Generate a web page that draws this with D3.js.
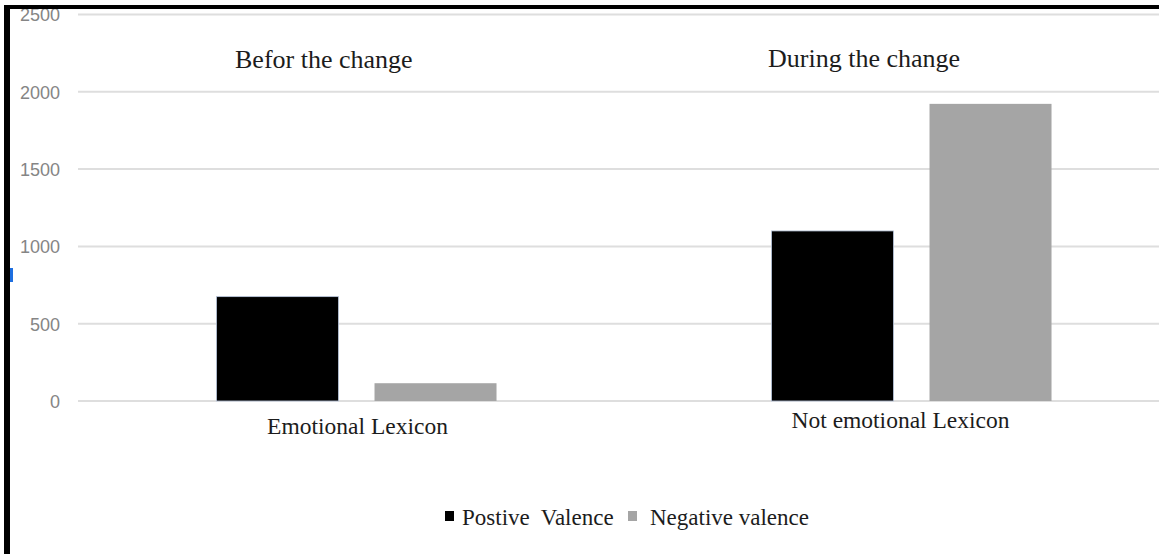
<!DOCTYPE html>
<html>
<head>
<meta charset="utf-8">
<script src="https://cdn.jsdelivr.net/npm/d3@7"></script>
<style>
  html, body { margin: 0; padding: 0; background: #fff; }
  svg { display: block; }
</style>
</head>
<body>
<svg id="chart" width="1159" height="554"></svg>
<script>
// Lexicon counts by valence
const categories = ["Emotional Lexicon", "Not emotional Lexicon"];
const seriesNames = ["Postive  Valence", "Negative valence"];
const positiveValues = [675, 1100];
const negativeValues = [115, 1922];
const yTicks = [0, 500, 1000, 1500, 2000, 2500];
const phaseLabels = ["Befor the change", "During the change"];

const colors = ["#000000", "#a5a5a5"];
const serif = "'Liberation Serif', 'Times New Roman', serif";
const sans = "'Liberation Sans', Arial, sans-serif";

const svg = d3.select("#chart");

const x0 = d3.scaleBand().domain(categories).range([79, 1189]).paddingInner(0).paddingOuter(0);
const x1 = d3.scaleBand().domain(seriesNames).range([0, x0.bandwidth()])
  .paddingInner(0.228).paddingOuter(0.87);
const y = d3.scaleLinear().domain([0, 2500]).range([401, 14.5]);

// gridlines
svg.append("g").selectAll("line").data(yTicks).join("line")
  .attr("x1", 78).attr("x2", 1159)
  .attr("y1", d => y(d)).attr("y2", d => y(d))
  .attr("stroke", "#dedede").attr("stroke-width", 2);

// y axis labels
const yAxis = d3.axisLeft(y).tickValues(yTicks).tickFormat(d3.format("d")).tickSize(0).tickPadding(0);
const yg = svg.append("g").attr("transform", "translate(60,0)").call(yAxis);
yg.select(".domain").remove();
yg.selectAll("text")
  .attr("font-family", sans).attr("font-size", 18).attr("fill", "#858585")
  .attr("dy", "0.35em");

// bars
const rows = categories.map((c, i) => ({ cat: c, vals: [positiveValues[i], negativeValues[i]] }));
const groups = svg.append("g").selectAll("g").data(rows).join("g")
  .attr("transform", d => `translate(${x0(d.cat)},0)`);
groups.selectAll("rect").data(d => d.vals.map((v, j) => ({ s: seriesNames[j], v, j })))
  .join("rect")
  .attr("x", d => x1(d.s))
  .attr("width", x1.bandwidth())
  .attr("y", d => y(d.v))
  .attr("height", d => y(0) - y(d.v))
  .attr("fill", d => colors[d.j])
  .attr("stroke", d => d.j === 0 ? "#b8c6dc" : "none")
  .attr("stroke-width", 0.8);

// category labels
const catY = [434, 428];
const catDx = [1, -11];
svg.append("g").selectAll("text").data(categories).join("text")
  .attr("x", (d, i) => x0(d) + x0.bandwidth() / 2 + catDx[i])
  .attr("y", (d, i) => catY[i])
  .attr("text-anchor", "middle")
  .attr("font-family", serif).attr("font-size", 23.5).attr("fill", "#1c1c1c")
  .text(d => d);

// phase annotations
const phaseX = [235, 768];
const phaseY = [68, 67];
svg.append("g").selectAll("text").data(phaseLabels).join("text")
  .attr("x", (d, i) => phaseX[i]).attr("y", (d, i) => phaseY[i])
  .attr("font-family", serif).attr("font-size", 26).attr("fill", "#1c1c1c")
  .text(d => d);

// legend
const legend = svg.append("g");
const legendItems = [
  { name: seriesNames[0], color: colors[0], sx: 445, tx: 462 },
  { name: seriesNames[1], color: colors[1], sx: 628, tx: 650 }
];
legend.selectAll("rect").data(legendItems).join("rect")
  .attr("x", d => d.sx).attr("y", 511).attr("width", 9).attr("height", 10)
  .attr("fill", d => d.color);
legend.selectAll("text").data(legendItems).join("text")
  .attr("x", d => d.tx).attr("y", 525)
  .attr("font-family", serif).attr("font-size", 23).attr("fill", "#1c1c1c")
  .attr("xml:space", "preserve").style("white-space", "pre")
  .text(d => d.name);

// frame
svg.append("rect").attr("x", 4).attr("y", 5).attr("width", 1155).attr("height", 4).attr("fill", "#000");
svg.append("rect").attr("x", 4).attr("y", 5).attr("width", 6).attr("height", 549).attr("fill", "#000");
svg.append("rect").attr("x", 10).attr("y", 268).attr("width", 3).attr("height", 14).attr("fill", "#1e6fe0");
</script>
</body>
</html>
